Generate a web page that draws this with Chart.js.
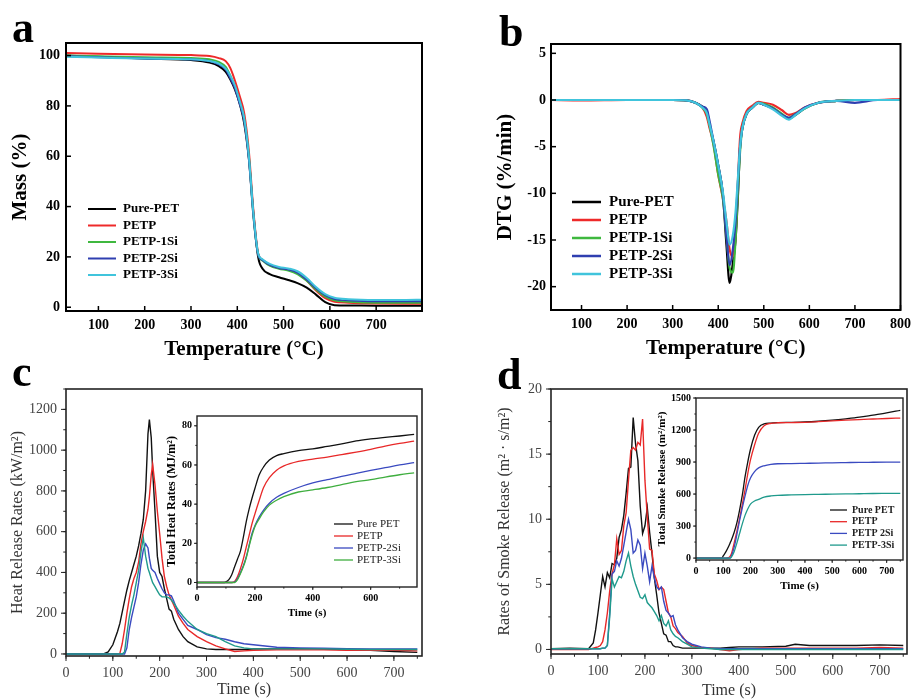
<!DOCTYPE html>
<html>
<head>
<meta charset="utf-8">
<script src="https://cdn.jsdelivr.net/npm/chart.js@4.4.1/dist/chart.umd.min.js"></script>
<style>
  body { margin: 0; background: #fff; width: 917px; height: 699px; position: relative; overflow: hidden; }
  .box { position: absolute; }
  .tag { position: absolute; font: bold 44px 'Liberation Serif', serif; line-height: 1; color: #000; }
</style>
</head>
<body>
<div class="box" style="left:0;top:0"><canvas id="tga" width="440" height="370"></canvas></div>
<div class="box" style="left:460px;top:0"><canvas id="dtg" width="457" height="370"></canvas></div>
<div class="box" style="left:0;top:360px"><canvas id="hrr" width="440" height="339"></canvas></div>
<div class="box" style="left:460px;top:360px"><canvas id="rsr" width="457" height="339"></canvas></div>
<div class="box" style="left:150px;top:400px"><canvas id="thr" width="275" height="230"></canvas></div>
<div class="box" style="left:640px;top:380px"><canvas id="tsr" width="275" height="230"></canvas></div>
<div class="tag" style="left:12px;top:6px">a</div>
<div class="tag" style="left:499px;top:10px">b</div>
<div class="tag" style="left:12px;top:350px">c</div>
<div class="tag" style="left:497px;top:353px">d</div>
<script>
// ---- a: TGA ----
const tgaTemp = [30, 100, 200, 300, 340, 360, 375, 385, 395, 405, 415, 425, 435, 445, 455, 470, 490, 510, 530, 550, 570, 590, 610, 640, 700, 760, 800];
const tgaPurePET = [100, 99.5, 98.8, 98.2, 97.2, 95.8, 93.5, 90.5, 86.5, 81, 73, 59, 37, 20, 15.2, 13.2, 11.9, 10.8, 9.6, 7.8, 5, 2, 0.8, 0.7, 0.6, 0.6, 0.6];
const tgaPETP = [101, 100.7, 100.4, 100.2, 99.8, 99, 97.8, 95, 90, 84, 77, 62, 38, 21.5, 18.8, 16.7, 15.6, 14.9, 13.6, 10.6, 6.6, 3.6, 2.2, 1.8, 1.5, 1.4, 1.4];
const tgaPETP1Si = [100, 99.7, 99.3, 99, 98.5, 97.5, 95.5, 92, 87.5, 81.5, 74.5, 60, 36, 21, 18.5, 16.5, 15.3, 14.6, 13.2, 10.5, 7, 4.2, 2.8, 2.2, 1.8, 1.8, 1.8];
const tgaPETP2Si = [99.8, 99.3, 98.8, 98.5, 97.8, 96.5, 94.5, 91, 87, 81, 74, 59, 36, 21, 18.7, 16.8, 15.6, 15, 13.8, 11, 7.5, 4.8, 3.3, 2.8, 2.4, 2.4, 2.4];
const tgaPETP3Si = [99.5, 99.2, 98.8, 98.5, 97.8, 96.8, 94.8, 92, 88, 82, 75, 60, 37, 21.5, 19, 17.2, 16, 15.4, 14.3, 11.6, 8, 5.2, 3.8, 3.2, 2.9, 2.9, 3];
const tgaTempTicks = [100, 200, 300, 400, 500, 600, 700];
const tgaMassTicks = [0, 20, 40, 60, 80, 100];

// ---- b: DTG ----
const dtgTemp = [33, 100, 200, 300, 330, 350, 365, 375, 380, 390, 400, 410, 418, 425, 432, 438, 443, 448, 453, 462, 475, 488, 500, 520, 540, 555, 570, 590, 620, 660, 700, 750, 800];
const dtgPurePET = [0, 0, 0, 0, -0.05, -0.3, -0.7, -1.2, -2.5, -4.5, -7, -10, -15.5, -19.6, -17.5, -15, -10.5, -5, -3, -1.5, -0.8, -0.3, -0.5, -0.9, -1.6, -2, -1.6, -0.9, -0.3, -0.1, 0, 0, 0];
const dtgPETP = [0, -0.05, 0, 0, -0.05, -0.3, -0.8, -1.8, -2.8, -4.8, -8, -10.5, -13, -16, -16.8, -14.6, -9, -4, -2.5, -1.2, -0.6, -0.2, -0.3, -0.5, -1.1, -1.6, -1.4, -0.8, -0.3, -0.1, 0, 0, 0.1];
const dtgPETP1Si = [0, 0, 0, 0, -0.05, -0.3, -0.8, -1.5, -2.5, -5, -8, -10.5, -14.5, -18, -18.5, -15, -10, -5.5, -3, -1.5, -0.8, -0.3, -0.4, -0.8, -1.5, -1.9, -1.5, -0.9, -0.3, -0.1, 0, 0, 0];
const dtgPETP2Si = [0, 0, 0, 0, -0.05, -0.3, -0.7, -1, -2, -4.5, -7, -10, -14.5, -17.7, -16, -13, -9, -5, -3, -1.5, -0.8, -0.3, -0.5, -0.9, -1.6, -1.9, -1.5, -0.8, -0.3, -0.1, -0.3, 0, 0];
const dtgPETP3Si = [0, 0, 0, 0, -0.05, -0.3, -0.8, -1.4, -2.4, -4.5, -7, -9.8, -13, -15.5, -14.5, -12, -8.5, -5, -3, -1.5, -0.8, -0.3, -0.5, -1, -1.7, -2.1, -1.6, -0.9, -0.3, -0.1, 0, 0, 0];
const dtgTempTicks = [100, 200, 300, 400, 500, 600, 700, 800];
const dtgTicks = [-20, -15, -10, -5, 0, 5];

// ---- c: heat release rate ----
const hrrTime = [0, 80, 90, 100, 110, 115, 120, 125, 130, 135, 140, 145, 150, 155, 160, 165, 170, 175, 178, 182, 185, 190, 195, 200, 205, 210, 215, 220, 225, 230, 240, 250, 260, 280, 300, 320, 340, 360, 380, 400, 450, 500, 550, 600, 650, 700, 750];
const hrrPurePET = [0, 0, 10, 45, 110, 150, 205, 260, 314, 360, 400, 440, 480, 530, 590, 660, 800, 1080, 1150, 1060, 900, 700, 480, 400, 380, 320, 270, 220, 210, 170, 120, 85, 60, 35, 25, 22, 22, 22, 22, 24, 25, 26, 24, 22, 18, 12, 8];
const hrrPETP = [0, 0, 0, 0, 0, 3, 50, 120, 200, 270, 330, 370, 400, 450, 540, 600, 650, 710, 770, 880, 930, 830, 700, 590, 470, 380, 330, 290, 265, 240, 185, 150, 120, 85, 60, 40, 25, 12, 15, 18, 20, 20, 20, 18, 18, 18, 15];
const hrrPETP2Si = [0, 0, 0, 0, 0, 0, 0, 0, 30, 120, 180, 230, 280, 350, 440, 510, 540, 520, 470, 420, 410, 400, 370, 345, 320, 300, 290, 290, 285, 260, 200, 170, 140, 120, 95, 80, 72, 60, 50, 45, 33, 30, 28, 26, 25, 25, 25];
const hrrPETP3Si = [0, 0, 0, 0, 0, 0, 0, 10, 100, 180, 240, 290, 350, 410, 500, 570, 480, 420, 400, 370, 350, 330, 310, 290, 280, 280, 280, 275, 265, 250, 215, 185, 160, 120, 100, 85, 60, 40, 30, 25, 25, 25, 25, 23, 22, 22, 22];
const hrrTimeTicks = [0, 100, 200, 300, 400, 500, 600, 700];
const hrrTicks = [0, 200, 400, 600, 800, 1000, 1200];

// ---- c inset: total heat release ----
const thrTime = [0, 95, 100, 110, 120, 130, 140, 150, 160, 170, 180, 190, 200, 215, 230, 250, 275, 300, 350, 400, 450, 500, 550, 600, 650, 700, 750];
const thrPurePET = [0, 0, 0.3, 1.5, 4, 8, 12, 16, 23, 31, 37.5, 43, 48, 55, 59, 62.5, 64.8, 65.8, 67.3, 68.2, 69.5, 70.8, 72.3, 73.3, 74.1, 74.8, 75.6];
const thrPETP = [0, 0, 0, 0, 0, 0.5, 3, 7, 12, 18, 24, 30, 35, 42, 48.5, 53.5, 57.3, 59.5, 61.8, 63, 64, 65.3, 66.6, 68, 69.6, 71, 72.2];
const thrPETP2Si = [0, 0, 0, 0, 0, 0.2, 2, 5, 8.5, 13, 19, 25, 29, 33.5, 37, 40.5, 43.5, 45.5, 48.5, 50.8, 52.5, 54.2, 55.7, 57.2, 58.6, 60, 61.2];
const thrPETP3Si = [0, 0, 0, 0, 0, 0, 1.5, 4.5, 8, 12.5, 18.5, 24, 28.5, 32.5, 36, 39.5, 42, 43.8, 46.2, 47.3, 48.5, 50, 51.5, 52.5, 53.8, 55, 56];
const thrTimeTicks = [0, 200, 400, 600];
const thrTicks = [0, 20, 40, 60, 80];

// ---- d: rate of smoke release ----
const rsrTime = [0, 40, 80, 90, 95, 100, 105, 110, 115, 120, 125, 130, 135, 140, 145, 150, 155, 160, 165, 170, 175, 180, 185, 190, 195, 200, 205, 210, 215, 220, 225, 230, 235, 240, 245, 250, 255, 260, 265, 270, 280, 290, 300, 320, 340, 360, 380, 400, 450, 500, 520, 550, 600, 650, 700, 750];
const rsrPurePET = [0.05, 0.1, 0.05, 0.5, 1.5, 2.8, 4.2, 5.6, 4.8, 5.9, 5.5, 6.6, 6.5, 7.0, 8.6, 9.2, 10.3, 12.0, 13.9, 14.0, 17.8, 15.8, 14.5, 11.0, 8.9, 9.5, 10.9, 9.0, 7.4, 5.5, 4.2, 2.8, 2.0, 1.2, 1.1, 0.6, 0.6, 0.3, 0.2, 0.2, 0.1, 0.1, 0.1, 0.1, 0.1, 0.1, 0.15, 0.2, 0.2, 0.25, 0.4, 0.3, 0.3, 0.3, 0.35, 0.3];
const rsrPETP = [0, 0, 0, 0.1, 0.15, 0.2, 0.3, 0.6, 1.5, 2.8, 4.5, 5.8, 6.5, 8.5, 7.3, 7.6, 9.5, 10.5, 13.0, 15.3, 15.5, 15.3, 15.9, 15.7, 17.7, 13.0, 10.2, 7.7, 7.6, 5.8, 5.3, 4.6, 4.8, 4.6, 3.7, 2.8, 2.5, 1.8, 1.6, 1.3, 1.0, 0.5, 0.3, 0.15, 0.1, 0.0, -0.1, 0, 0.1, 0.1, 0.1, 0.1, 0.1, 0.1, 0.15, 0.1];
const rsrPETP2Si = [0.05, 0.05, 0.05, 0.05, 0.05, 0.05, 0.05, 0.1, 0.1, 0.3, 2.8, 5.8, 6.0, 6.8, 6.4, 7.0, 8.0, 9.0, 10.0, 9.2, 7.4, 7.6, 8.4, 8.0, 6.2, 7.4, 6.4, 5.2, 6.4, 5.5, 4.8, 4.6, 4.8, 3.7, 3.0, 2.8, 2.5, 2.6, 1.9, 1.5, 0.9, 0.6, 0.4, 0.2, 0.1, 0.05, 0.05, 0.05, 0.05, 0.05, 0.05, 0.05, 0.05, 0.05, 0.05, 0.05];
const rsrPETP3Si = [0.05, 0.05, 0.05, 0.05, 0.05, 0.05, 0.05, 0.1, 0.1, 0.3, 2.5, 5.4, 4.8, 5.2, 5.6, 5.5, 6.0, 6.8, 7.4, 6.4, 5.6, 5.0, 4.5, 4.0, 3.9, 4.2, 3.6, 3.4, 3.2, 2.9, 2.6, 2.2, 2.6, 2.0, 1.8, 2.2, 1.5, 1.2, 1.0, 0.9, 0.6, 0.4, 0.2, 0.1, 0.05, 0, 0, 0, 0, 0, 0, 0, 0, 0, 0, 0];
const rsrTimeTicks = [0, 100, 200, 300, 400, 500, 600, 700];
const rsrTicks = [0, 5, 10, 15, 20];

// ---- d inset: total smoke release ----
const tsrTime = [0, 95, 100, 110, 120, 125, 130, 140, 150, 160, 170, 180, 190, 200, 215, 230, 250, 275, 300, 350, 400, 450, 500, 550, 600, 650, 700, 750];
const tsrPurePET = [0, 0, 20, 60, 110, 140, 170, 240, 330, 450, 590, 760, 900, 1020, 1150, 1225, 1258, 1265, 1270, 1272, 1275, 1282, 1292, 1305, 1320, 1340, 1360, 1385];
const tsrPETP = [0, 0, 0, 0, 5, 15, 40, 140, 250, 370, 500, 640, 790, 920, 1060, 1170, 1240, 1262, 1268, 1270, 1272, 1278, 1285, 1292, 1298, 1303, 1308, 1312];
const tsrPETP2Si = [0, 0, 0, 0, 0, 0, 20, 100, 220, 350, 470, 580, 680, 750, 810, 845, 865, 878, 884, 886, 888, 890, 893, 895, 897, 898, 899, 900];
const tsrPETP3Si = [0, 0, 0, 0, 0, 0, 10, 60, 140, 230, 320, 400, 460, 505, 535, 550, 570, 582, 588, 592, 595, 597, 599, 601, 603, 605, 606, 607];
const tsrTimeTicks = [0, 100, 200, 300, 400, 500, 600, 700];
const tsrTicks = [0, 300, 600, 900, 1200, 1500];

Chart.defaults.font.family = "'Liberation Serif', 'DejaVu Serif', serif";
Chart.defaults.color = '#000';

function pts(xs, ys) {
  return xs.map((x, i) => ({ x: x, y: ys[i] }));
}
function series(label, xs, ys, color, width, smooth, order) {
  return {
    label: label, data: pts(xs, ys), borderColor: color, backgroundColor: color,
    borderWidth: width, pointRadius: 0, fill: false, order: order,
    cubicInterpolationMode: smooth ? 'monotone' : 'default', tension: 0
  };
}

// frame, tick marks and legend drawn around the chart area
const boxPlugin = {
  id: 'box',
  beforeDraw(chart, args, o) {
    if (!o.fill) return;
    const a = chart.chartArea, ctx = chart.ctx;
    ctx.save();
    ctx.fillStyle = o.fill;
    ctx.fillRect(a.left, a.top, a.right - a.left, a.bottom - a.top);
    ctx.restore();
  },
  afterDraw(chart, args, o) {
    const a = chart.chartArea, ctx = chart.ctx;
    ctx.save();
    ctx.strokeStyle = o.color || '#000';
    ctx.lineWidth = o.width || 1;
    ctx.strokeRect(a.left, a.top, a.right - a.left, a.bottom - a.top);

    function marks(scale, t, horiz) {
      if (!t) return;
      const dir = t.inward ? -1 : 1;
      const steps = [[t.major, t.len]];
      if (t.minor) steps.push([t.minor, t.len * 0.55]);
      steps.forEach(([step, len]) => {
        for (let v = Math.ceil(scale.min / step - 1e-9) * step; v <= scale.max + 1e-9; v += step) {
          const p = scale.getPixelForValue(v);
          ctx.beginPath();
          if (horiz) { ctx.moveTo(p, a.bottom); ctx.lineTo(p, a.bottom + dir * len); }
          else { ctx.moveTo(a.left, p); ctx.lineTo(a.left - dir * len, p); }
          ctx.stroke();
        }
      });
    }
    ctx.lineWidth = o.tickWidth || 1;
    marks(chart.scales.x, o.xTicks, true);
    marks(chart.scales.y, o.yTicks, false);

    const L = o.legend;
    if (L) {
      ctx.font = L.font;
      ctx.textBaseline = 'middle';
      ctx.textAlign = 'left';
      chart.data.datasets.forEach((d, i) => {
        const y = L.y + i * L.row;
        ctx.strokeStyle = d.borderColor;
        ctx.lineWidth = L.lw;
        ctx.beginPath(); ctx.moveTo(L.x, y); ctx.lineTo(L.x + L.len, y); ctx.stroke();
        ctx.fillStyle = L.color || '#000';
        ctx.fillText(d.label, L.x + L.len + L.gap, y);
      });
    }
    ctx.restore();
  }
};

function axis(o) {
  return {
    type: 'linear', min: o.min, max: o.max,
    afterFit: s => { if (o.w) s.width = o.w; if (o.h) s.height = o.h; },
    afterBuildTicks: s => { s.ticks = o.ticks.map(v => ({ value: v })); },
    grid: { display: false, drawTicks: false }, border: { display: false },
    ticks: { padding: o.pad, maxRotation: 0, autoSkip: false,
             font: o.tickFont, color: o.tickColor || '#000', callback: v => String(v) },
    title: { display: true, text: o.title, font: o.titleFont, color: o.titleColor || '#000', padding: o.titlePad }
  };
}

function makeChart(id, datasets, layout, xs, ys, box) {
  return new Chart(document.getElementById(id), {
    type: 'line',
    data: { datasets: datasets },
    options: {
      responsive: false, animation: false,
      layout: { padding: layout },
      plugins: { legend: { display: false }, tooltip: { enabled: false }, box: box },
      scales: { x: axis(xs), y: axis(ys) }
    },
    plugins: [boxPlugin]
  });
}

const bold14 = { size: 14, weight: 'bold' };
const bold21 = { size: 21, weight: 'bold', lineHeight: 1.2 };

// a
makeChart('tga', [
  series('Pure-PET', tgaTemp, tgaPurePET, '#000000', 2, true, 5),
  series('PETP', tgaTemp, tgaPETP, '#ee2a2a', 2, true, 4),
  series('PETP-1Si', tgaTemp, tgaPETP1Si, '#3fb83f', 2, true, 3),
  series('PETP-2Si', tgaTemp, tgaPETP2Si, '#2f3fb0', 2, true, 2),
  series('PETP-3Si', tgaTemp, tgaPETP3Si, '#40c4dc', 2, true, 1)
], { left: 6, right: 18, top: 43, bottom: 8 },
  { min: 30, max: 799, ticks: tgaTempTicks, pad: 6, h: 51, tickFont: bold14, title: 'Temperature (°C)', titleFont: bold21, titlePad: { top: 0, bottom: 0 } },
  { min: -1.5, max: 105, ticks: tgaMassTicks, pad: 6, w: 60, tickFont: bold14, title: 'Mass (%)', titleFont: bold21, titlePad: { top: 2, bottom: 0 } },
  { width: 2, xTicks: { major: 100, len: 5, inward: true }, yTicks: { major: 20, len: 5, inward: true }, tickWidth: 1.5,
    legend: { x: 88, y: 209, len: 28, gap: 7, row: 16.5, lw: 2, font: "bold 13px 'Liberation Serif', serif" } });

// b
makeChart('dtg', [
  series('Pure-PET', dtgTemp, dtgPurePET, '#000000', 2.2, true, 5),
  series('PETP', dtgTemp, dtgPETP, '#ee2a2a', 2.2, true, 4),
  series('PETP-1Si', dtgTemp, dtgPETP1Si, '#3fb83f', 2.2, true, 3),
  series('PETP-2Si', dtgTemp, dtgPETP2Si, '#2f3fb0', 2.2, true, 2),
  series('PETP-3Si', dtgTemp, dtgPETP3Si, '#40c4dc', 2.2, true, 1)
], { left: 31, right: 11, top: 44, bottom: 9 },
  { min: 33, max: 800, ticks: dtgTempTicks, pad: 6, h: 51, tickFont: bold14, title: 'Temperature (°C)', titleFont: bold21, titlePad: { top: 0, bottom: 0 } },
  { min: -22.5, max: 6, ticks: dtgTicks, pad: 5, w: 60, tickFont: bold14, title: 'DTG (%/min)', titleFont: bold21, titlePad: { top: 2, bottom: 0 } },
  { width: 2, xTicks: { major: 100, len: 5, inward: true }, yTicks: { major: 5, len: 5, inward: true }, tickWidth: 1.5,
    legend: { x: 112, y: 202, len: 29, gap: 8, row: 18, lw: 2.5, font: "bold 15px 'Liberation Serif', serif" } });

const reg14 = { size: 14 };
const reg16 = { size: 16, lineHeight: 1.2 };

// c
makeChart('hrr', [
  series('Pure PET', hrrTime, hrrPurePET, '#111111', 1.4, false, 4),
  series('PETP', hrrTime, hrrPETP, '#e82828', 1.4, false, 3),
  series('PETP-2Si', hrrTime, hrrPETP2Si, '#3a4ac0', 1.4, false, 2),
  series('PETP-3Si', hrrTime, hrrPETP3Si, '#1f9a8c', 1.4, false, 1)
], { left: 6, right: 18, top: 29, bottom: 0 },
  { min: 0, max: 760, ticks: hrrTimeTicks, pad: 9, h: 43, tickFont: reg14, tickColor: '#444', title: 'Time (s)', titleFont: reg16, titleColor: '#333', titlePad: { top: 0, bottom: 0 } },
  { min: -10, max: 1300, ticks: hrrTicks, pad: 9, w: 60, tickFont: reg14, tickColor: '#444', title: 'Heat Release Rates (kW/m²)', titleFont: reg16, titleColor: '#333', titlePad: { top: 2, bottom: 0 } },
  { width: 1.6, color: '#222', xTicks: { major: 100, minor: 50, len: 5 }, yTicks: { major: 200, minor: 100, len: 5 }, tickWidth: 1 });

// c inset
makeChart('thr', [
  series('Pure PET', thrTime, thrPurePET, '#111111', 1.3, true, 4),
  series('PETP', thrTime, thrPETP, '#e82828', 1.3, true, 3),
  series('PETP-2Si', thrTime, thrPETP2Si, '#3a4ac0', 1.3, true, 2),
  series('PETP-3Si', thrTime, thrPETP3Si, '#3fae3f', 1.3, true, 1)
], { left: 15, right: 8, top: 16, bottom: 10 },
  { min: 0, max: 760, ticks: thrTimeTicks, pad: 5, h: 33, tickFont: { size: 10, weight: 'bold' }, title: 'Time (s)', titleFont: { size: 11, weight: 'bold', lineHeight: 1.2 }, titlePad: { top: 0, bottom: 0 } },
  { min: -2.3, max: 85, ticks: thrTicks, pad: 5, w: 32, tickFont: { size: 10, weight: 'bold' }, title: 'Total Heat Rates (MJ/m²)', titleFont: { size: 12, weight: 'bold', lineHeight: 1.2 }, titlePad: { top: 0, bottom: 0 } },
  { fill: '#fff', width: 1.4, color: '#222', xTicks: { major: 200, minor: 100, len: 3 }, yTicks: { major: 20, minor: 10, len: 3 }, tickWidth: 1,
    legend: { x: 184, y: 124, len: 19, gap: 4, row: 12, lw: 1.3, font: "11px 'Liberation Serif', serif", color: '#222' } });

// d
makeChart('rsr', [
  series('Pure PET', rsrTime, rsrPurePET, '#111111', 1.4, false, 4),
  series('PETP', rsrTime, rsrPETP, '#e82828', 1.4, false, 3),
  series('PETP 2Si', rsrTime, rsrPETP2Si, '#3a4ac0', 1.4, false, 2),
  series('PETP-3Si', rsrTime, rsrPETP3Si, '#1f9a8c', 1.4, false, 1)
], { left: 33, right: 10, top: 29, bottom: 0 },
  { min: 0, max: 758, ticks: rsrTimeTicks, pad: 9, h: 45, tickFont: reg14, tickColor: '#444', title: 'Time (s)', titleFont: { size: 16, lineHeight: 1 }, titleColor: '#333', titlePad: { top: 0, bottom: 0 } },
  { min: -0.35, max: 20, ticks: rsrTicks, pad: 9, w: 58, tickFont: reg14, tickColor: '#444', title: 'Rates of Smoke Release (m² · s/m²)', titleFont: { size: 16, lineHeight: 1 }, titleColor: '#333', titlePad: { top: 4, bottom: 0 } },
  { width: 1.6, color: '#222', xTicks: { major: 100, minor: 50, len: 5 }, yTicks: { major: 5, minor: 2.5, len: 5 }, tickWidth: 1 });

// d inset
makeChart('tsr', [
  series('Pure PET', tsrTime, tsrPurePET, '#111111', 1.3, true, 4),
  series('PETP', tsrTime, tsrPETP, '#e82828', 1.3, true, 3),
  series('PETP 2Si', tsrTime, tsrPETP2Si, '#3a4ac0', 1.3, true, 2),
  series('PETP-3Si', tsrTime, tsrPETP3Si, '#1f9a8c', 1.3, true, 1)
], { left: 16, right: 12, top: 18, bottom: 17 },
  { min: 0, max: 760, ticks: tsrTimeTicks, pad: 5, h: 33, tickFont: { size: 10, weight: 'bold' }, title: 'Time (s)', titleFont: { size: 11, weight: 'bold', lineHeight: 1.2 }, titlePad: { top: 0, bottom: 0 } },
  { min: -18, max: 1500, ticks: tsrTicks, pad: 5, w: 40, tickFont: { size: 10, weight: 'bold' }, title: 'Total Smoke Release (m²/m²)', titleFont: { size: 11, weight: 'bold', lineHeight: 1.2 }, titlePad: { top: 0, bottom: 0 } },
  { fill: '#fff', width: 1.4, color: '#222', xTicks: { major: 100, minor: 50, len: 3 }, yTicks: { major: 300, minor: 150, len: 3 }, tickWidth: 1,
    legend: { x: 190, y: 130, len: 17, gap: 5, row: 11.7, lw: 1.3, font: "bold 10px 'Liberation Serif', serif", color: '#222' } });
</script>
</body>
</html>
